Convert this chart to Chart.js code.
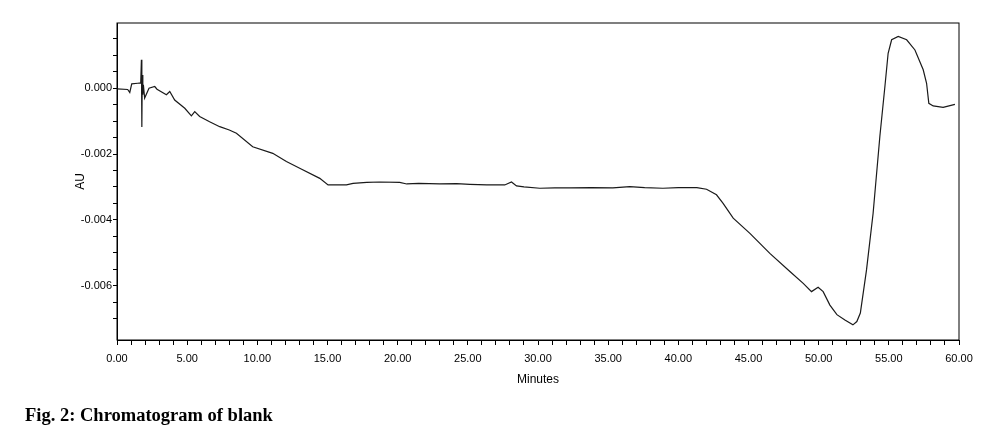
<!DOCTYPE html>
<html>
<head>
<meta charset="utf-8">
<script src="https://cdn.jsdelivr.net/npm/chart.js@4/dist/chart.umd.min.js"></script>
<style>
    body { margin: 0; background: #fff; }
    #wrap { position: relative; width: 994px; height: 435px; }
    #caption {
        position: absolute;
        left: 25px;
        top: 406px;
        font: bold 18.5px "Liberation Serif", "Times New Roman", serif;
        line-height: 18.5px;
        color: #000;
        white-space: nowrap;
    }
</style>
</head>
<body>
<div id="wrap">
    <canvas id="myChart" width="994" height="435"></canvas>
    <div id="caption">Fig. 2: Chromatogram of blank</div>
</div>
<script>
"use strict";

// retention time (min) and absorbance (AU)
const minutes = [
    0.00, 0.76, 0.91, 1.05, 1.48, 1.69, 1.74, 1.77, 1.80, 1.84, 1.88, 1.97,
    2.28, 2.69, 2.85, 3.52, 3.76, 4.11, 4.83, 5.30, 5.54, 5.89, 6.60, 7.32,
    8.00, 8.51, 9.67, 11.10, 12.07, 13.02, 14.45, 15.04, 16.35, 16.82, 17.80,
    18.72, 20.15, 20.65, 21.50, 23.00, 24.20, 25.14, 26.35, 27.63, 28.11,
    28.47, 29.00, 30.13, 31.20, 32.27, 33.80, 35.33, 36.54, 37.60, 38.90,
    40.00, 41.32, 42.01, 42.72, 43.19, 43.91, 45.10, 46.52, 47.95, 48.90,
    49.49, 49.96, 50.32, 50.80, 51.30, 51.87, 52.44, 52.72, 52.97, 53.41,
    53.88, 54.36, 54.72, 54.95, 55.20, 55.67, 56.27, 56.86, 57.45, 57.69,
    57.85, 58.16, 58.87, 59.71,
];

const absorbance = [
    -0.00002, -0.00004, -0.00013, 0.00013, 0.00015, 0.00016, 0.00086, -0.00118, 0.00040, -0.00020, 0.00010, -0.00030,
    0.00000, 0.00005, -0.00003, -0.00020, -0.00010, -0.00036, -0.00061, -0.00084, -0.00071, -0.00086, -0.00102, -0.00117,
    -0.00127, -0.00137, -0.00178, -0.00198, -0.00223, -0.00243, -0.00274, -0.00294, -0.00294, -0.00289, -0.00286,
    -0.00285, -0.00286, -0.00291, -0.00289, -0.00291, -0.00290, -0.00292, -0.00294, -0.00294, -0.00285,
    -0.00297, -0.00300, -0.00304, -0.00303, -0.00303, -0.00302, -0.00303, -0.00299, -0.00302, -0.00304,
    -0.00302, -0.00302, -0.00307, -0.00324, -0.00350, -0.00395, -0.00441, -0.00502, -0.00557, -0.00593,
    -0.00618, -0.00605, -0.00618, -0.00659, -0.00688, -0.00704, -0.00719, -0.00709, -0.00683, -0.00552,
    -0.00380, -0.00147, 0.00005, 0.00106, 0.00147, 0.00157, 0.00147, 0.00116, 0.00056, 0.00015,
    -0.00046, -0.00054, -0.00058, -0.00049,
];

const xLabelStep = 5;       // labelled every 5 min, minor tick every 1 min
const yLabelStep = 0.002;   // labelled every 0.002 AU, minor tick every 0.0005

const tickFont = {
    family: "'Liberation Sans', Arial, sans-serif",
    size: 11,
};

// box round the plot area
const frame = {
    id: "frame",
    afterDraw(chart) {
        const { ctx, chartArea } = chart;
        ctx.save();
        ctx.strokeStyle = "#000";
        ctx.lineWidth = 1;
        ctx.strokeRect(chartArea.left, chartArea.top,
            chartArea.right - chartArea.left, chartArea.bottom - chartArea.top);
        ctx.restore();
    },
};

const points = minutes.map((m, i) => ({ x: m, y: absorbance[i] }));

const ctx = document.getElementById("myChart").getContext("2d");

new Chart(ctx, {
    type: "line",
    data: {
        datasets: [
            {
                data: points,
                borderColor: "#1a1a1a",
                borderWidth: 1.2,
                pointRadius: 0,
                tension: 0,
                fill: false,
            },
        ],
    },
    options: {
        responsive: false,
        animation: false,
        layout: {
            padding: { left: 0, right: 35, top: 23, bottom: 0 },
        },
        plugins: {
            legend: { display: false },
            tooltip: { enabled: false },
        },
        scales: {
            x: {
                type: "linear",
                min: 0,
                max: 60,
                afterFit: (scale) => { scale.height = 95; },
                border: { color: "#000", width: 1 },
                grid: {
                    drawOnChartArea: false,
                    drawTicks: true,
                    tickLength: 5,
                    tickColor: "#000",
                },
                ticks: {
                    stepSize: 1,
                    autoSkip: false,
                    maxRotation: 0,
                    minRotation: 0,
                    padding: 7,
                    color: "#000",
                    font: tickFont,
                    callback: (v) => (v % xLabelStep === 0 ? v.toFixed(2) : ""),
                },
                title: {
                    display: true,
                    text: "Minutes",
                    color: "#000",
                    font: { family: tickFont.family, size: 12 },
                    padding: { top: 0, bottom: 48 },
                },
            },
            y: {
                type: "linear",
                min: -0.00765,
                max: 0.00198,
                afterFit: (scale) => { scale.width = 117; },
                afterBuildTicks: (scale) => {
                    scale.ticks = scale.ticks.filter((t) => {
                        const k = t.value / 0.0005;
                        return Math.abs(k - Math.round(k)) < 1e-6;
                    });
                },
                border: { color: "#000", width: 1 },
                grid: {
                    drawOnChartArea: false,
                    drawTicks: true,
                    tickLength: 4,
                    tickColor: "#000",
                },
                ticks: {
                    stepSize: 0.0005,
                    autoSkip: false,
                    padding: 1,
                    color: "#000",
                    font: tickFont,
                    callback: (v) => {
                        const k = v / yLabelStep;
                        return Math.abs(k - Math.round(k)) < 1e-6 ? v.toFixed(3) : "";
                    },
                },
                title: {
                    display: true,
                    text: "AU",
                    color: "#000",
                    font: { family: tickFont.family, size: 12 },
                    padding: { top: 73, bottom: 0 },
                },
            },
        },
    },
    plugins: [frame],
});
</script>
</body>
</html>
